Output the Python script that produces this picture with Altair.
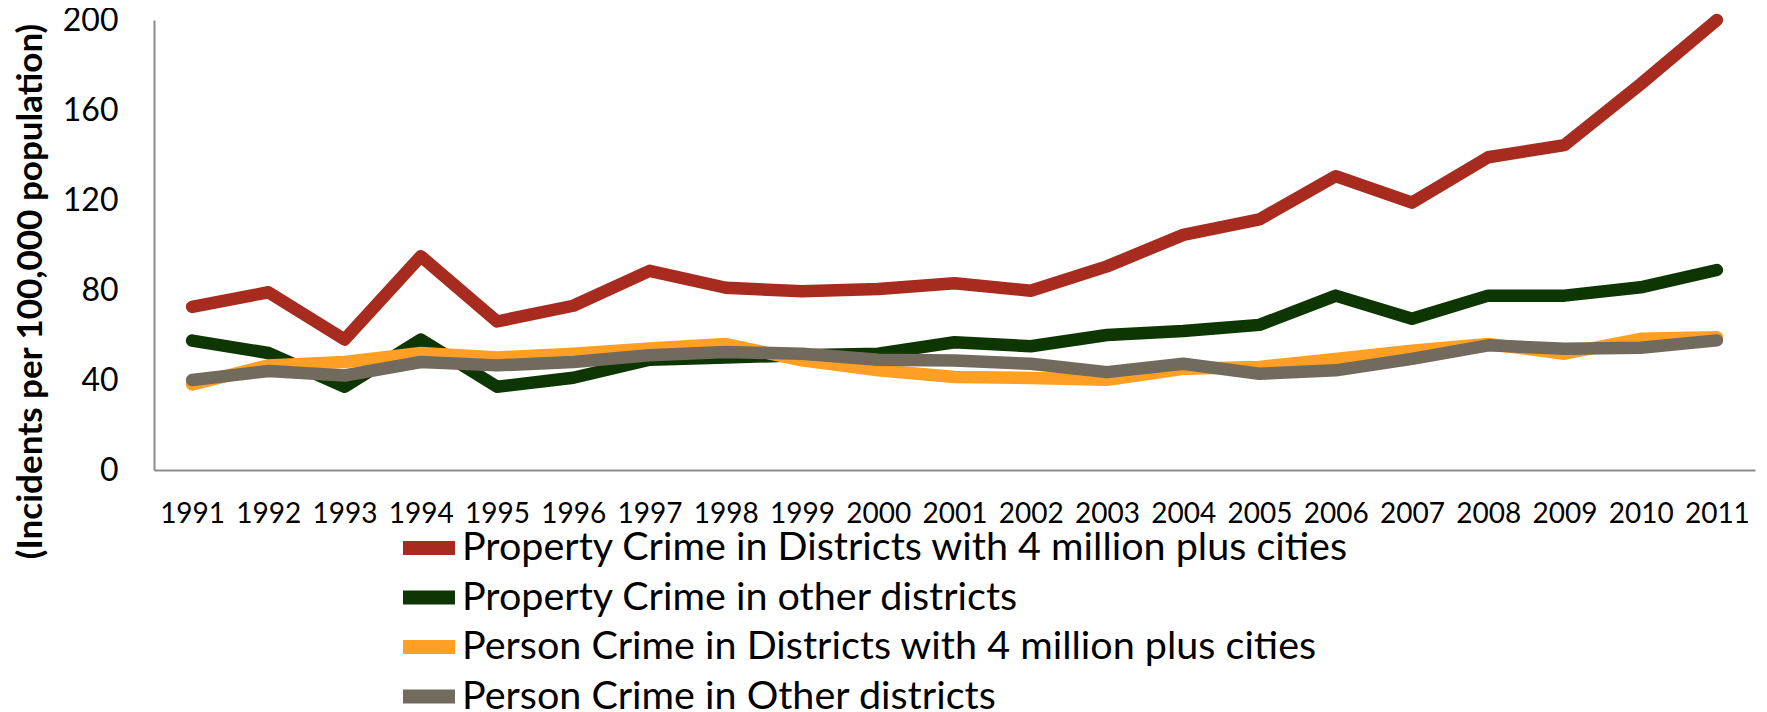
import altair as alt
import pandas as pd

years = [str(y) for y in range(1991, 2012)]
series = [
    "Property Crime in Districts with 4 million plus cities",
    "Property Crime in other districts",
    "Person Crime in Districts with 4 million plus cities",
    "Person Crime in Other districts",
]
colors = ["#A82B20", "#0D3603", "#FFA024", "#726A5C"]

prop_big = [72.5, 79, 58, 95, 66, 73, 88.5, 81, 79.4, 80.4, 83, 79.7, 90.5, 104.5, 111.4, 130.6, 118.8, 139, 144.4, 171.5, 200]
prop_other = [57.5, 52, 37, 58, 37, 41, 49, 50, 51, 51.7, 56.8, 55, 60, 61.8, 64.5, 77.5, 67.2, 77.5, 77.5, 81.2, 88.9]
pers_big = [38, 46.5, 48, 52, 50, 51.7, 54, 56, 48.7, 44.3, 41.3, 40.9, 40.1, 45, 45.8, 49.4, 53, 56, 51.7, 58.3, 59]
pers_other = [40, 44, 42, 48, 46.5, 48, 51, 52.4, 51.7, 49, 48.7, 47.2, 43.5, 47.2, 42.8, 44.3, 49.4, 55.4, 53.9, 54.3, 57.6]

rows = []
for s, vals in zip(series, [prop_big, prop_other, pers_big, pers_other]):
    for y, v in zip(years, vals):
        rows.append({"Year": y, "Series": s, "Value": v})
df = pd.DataFrame(rows)

FONT = "Lato"

chart = alt.Chart(df).mark_line(strokeWidth=12.5, strokeJoin="round", strokeCap="round").encode(
    x=alt.X("Year:O", sort=years,
            scale=alt.Scale(type="point", padding=0.5),
            axis=alt.Axis(title=None, labelAngle=0, ticks=False, labelFontSize=28,
                          labelFont=FONT, labelColor="#000000", labelPadding=30,
                          domainColor="#8c8c8c", domainWidth=2, grid=False)),
    y=alt.Y("Value:Q",
            scale=alt.Scale(domain=[0, 200], nice=False, zero=True),
            axis=alt.Axis(values=[0, 40, 80, 120, 160, 200], ticks=False, grid=False,
                          labelFontSize=32, labelFont=FONT, labelColor="#000000",
                          labelPadding=36, domainColor="#8c8c8c", domainWidth=2,
                          title="(Incidents per 100,000 population)",
                          titleFont=FONT, titleFontSize=35, titleFontWeight="bold",
                          titleColor="#000000", titleAngle=270, titleX=-124, titleY=271,
                          titleAlign="center", titleBaseline="middle")),
    color=alt.Color("Series:N", sort=series,
                    scale=alt.Scale(domain=series, range=colors),
                    legend=alt.Legend(title=None, orient="none", legendX=242, legendY=508,
                                      direction="vertical", symbolType="stroke",
                                      symbolSize=2704, symbolStrokeWidth=14,
                                      clipHeight=40,
                                      labelFont=FONT, labelFontSize=39.5, labelColor="#000000",
                                      labelLimit=1400, labelOffset=0, rowPadding=9.5)),
    order=alt.Order("Year:O"),
).properties(
    width=1601, height=450,
    autosize=alt.AutoSizeParams(type="none"),
    padding={"left": 146, "top": 12, "right": 4, "bottom": 242},
).configure_view(stroke=None)

chart.save("out.html", embed_options={"renderer": "svg", "actions": False})
